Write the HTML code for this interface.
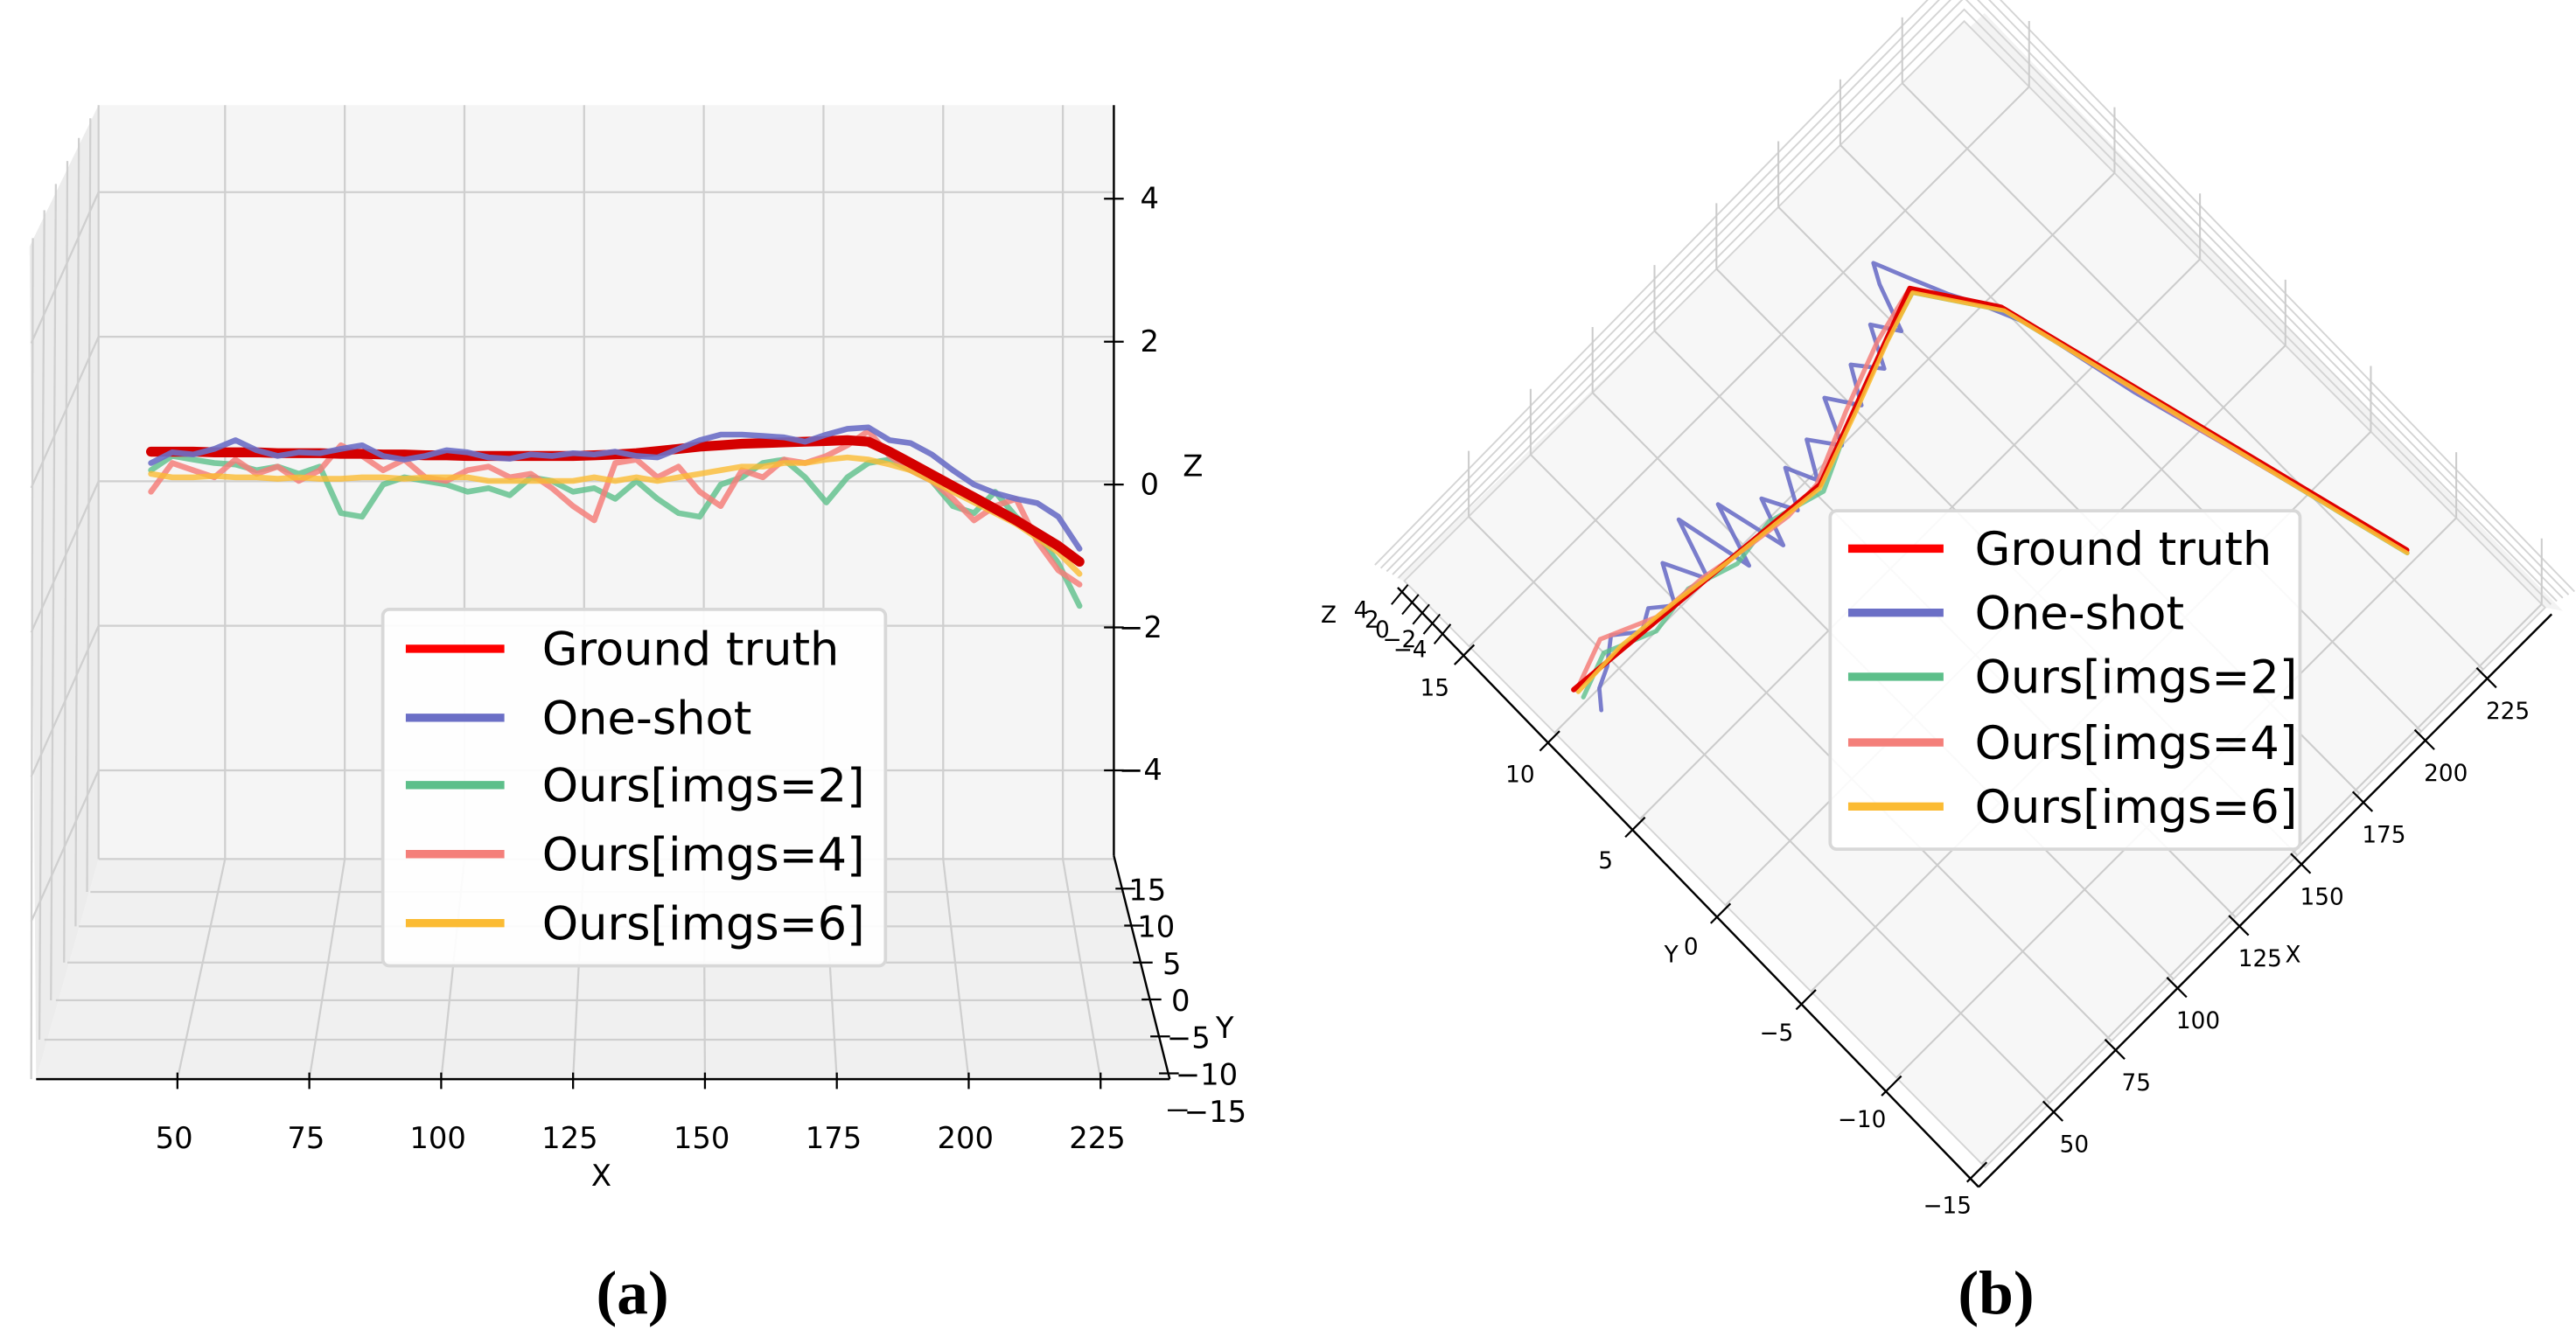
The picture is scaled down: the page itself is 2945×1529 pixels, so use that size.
<!DOCTYPE html>
<html><head><meta charset="utf-8"><style>
html,body{margin:0;padding:0;background:#fff}
svg{display:block}
text{font-family:"DejaVu Sans","Liberation Sans",sans-serif}
</style></head><body>
<svg id="fig" xmlns="http://www.w3.org/2000/svg" width="2945" height="1529" viewBox="0 0 1568 814" preserveAspectRatio="none">
<g id="left"></g>
<g id="right"></g>
<text x="385" y="800" font-size="38" font-weight="bold" text-anchor="middle" style="font-family:'Liberation Serif',serif">(a)</text>
<text x="1215" y="800" font-size="38" font-weight="bold" text-anchor="middle" style="font-family:'Liberation Serif',serif">(b)</text>
</svg>
<script>
// ---------- data: panel (a) side view x vs z ----------
const leftX = [45,49,53,57,61,65,69,73,77,81,85,89,93,97,101,105,109,113,117,121,125,129,133,137,141,145,149,153,157,161,165,169,173,177,181,185,189,193,197,201,205,209,213,217,221];
const leftGtZ = [.46,.46,.46,.45,.45,.45,.44,.44,.44,.43,.43,.42,.42,.41,.41,.40,.40,.40,.40,.40,.40,.41,.42,.44,.47,.50,.53,.55,.57,.58,.59,.60,.61,.62,.60,.46,.30,.14,-.02,-.18,-.34,-.50,-.68,-.86,-1.08];
const leftOneShotZ = [.30,.45,.42,.50,.62,.48,.40,.45,.44,.50,.55,.40,.35,.40,.48,.45,.38,.36,.42,.40,.44,.42,.46,.40,.38,.50,.62,.70,.70,.68,.66,.60,.70,.78,.80,.62,.58,.42,.20,.0,-.12,-.20,-.26,-.45,-.90];
const leftImgs2Z = [.20,.40,.35,.30,.28,.20,.25,.15,.25,-.40,-.45,.00,.10,.05,.00,-.10,-.05,-.15,.10,.05,-.10,-.05,-.20,.05,-.20,-.40,-.45,.00,.10,.30,.35,.10,-.25,.10,.30,.35,.20,.05,-.30,-.40,-.10,-.45,-.70,-1.10,-1.70];
const leftImgs4Z = [-.10,.30,.20,.10,.35,.15,.25,.05,.20,.55,.40,.20,.35,.10,.05,.20,.25,.10,.15,-.05,-.30,-.50,.30,.35,.10,.25,-.10,-.30,.20,.10,.35,.30,.40,.55,.75,.40,.20,.05,-.20,-.50,-.30,-.20,-.80,-1.20,-1.40];
const leftImgs6Z = [.15,.10,.10,.12,.10,.10,.08,.10,.08,.08,.10,.10,.08,.10,.10,.10,.05,.05,.05,.05,.05,.10,.05,.10,.05,.10,.15,.20,.25,.25,.30,.30,.35,.38,.35,.28,.20,.05,-.10,-.25,-.40,-.55,-.75,-.95,-1.25];
const leftXTicks = [50,75,100,125,150,175,200,225];
const leftZTicks = [4,2,0,-2,-4];
const leftYTicks = [15,10,5,0,-5,-10,-15];
// ---------- data: panel (b) top view x vs y ----------
const rightGtX = [36.5,127.7,185.3,200,233.5];
const rightGtY = [10.7,9.5,12.6,9.4,-9.5];
const rightOneShotX = [38,42,48,55,62,68,74,80,86,92,97,103,108,113,118,124,128,134,140,146,152,158,164,170,175,180,183,187,192,196,202,210,218,225,232];
const rightOneShotY = [9.3,10.0,10.4,11.2,10.4,10.9,10.2,11.8,10.0,12.6,9.2,11.9,8.8,10.8,9.4,11.0,9.7,11.2,10.0,11.9,10.6,12.1,11.0,12.7,11.6,13.6,14.4,13.0,11.3,10.2,8.2,3.0,-1.2,-5.0,-8.9];
const rightImgs2X = [37,50,65,80,95,110,127,145,165,185,200,215,233];
const rightImgs2Y = [10.2,10.9,10.0,10.3,9.6,9.9,9.2,10.4,11.5,12.4,9.2,0.6,-9.6];
const rightImgs4X = [37,52,68,85,100,115,127,148,168,185,200,215,233];
const rightImgs4Y = [10.6,11.4,10.4,10.2,9.8,9.5,9.6,10.9,12.0,12.6,9.3,0.5,-9.4];
const rightImgs6X = [37,55,75,95,127,150,170,185,200,233];
const rightImgs6Y = [10.5,10.6,10.3,9.9,9.4,10.6,11.7,12.4,9.2,-9.6];
const rightXTicks = [50,75,100,125,150,175,200,225];
const rightYTicks = [15,10,5,0,-5,-10,-15];
const rightZTicks = ["4","2","0","−2","−4"];
const legendLabels = ["Ground truth","One-shot","Ours[imgs=2]","Ours[imgs=4]","Ours[imgs=6]"];
const colors = ["#ff0000","#6b6fc6","#5dbf8a","#f47f7a","#fbbb33"];

const NS="http://www.w3.org/2000/svg";
function mk(parent,tag,attrs){const e=document.createElementNS(NS,tag);for(const k in attrs)e.setAttribute(k,attrs[k]);parent.appendChild(e);return e;}
const fmt=v=>String(v).replace('-','−');

// ---------- panel (a) ----------
const L=document.getElementById('left');
const lx=x=>108+(x-50)*3.211;
const lz=z=>295-z*43.5;
const backX=v=>137+(lx(v)-108)*0.9075;
const backZ=z=>293-z*44;
let p=mk(L,'polygon',{points:"60,64 678,64 678,523 60,523",fill:"#f5f5f5"});

p=mk(L,'polygon',{points:"18,150 60,64 60,523 22,657",fill:"#ececec"});

p=mk(L,'polygon',{points:"60,523 678,523 712,657 22,657",fill:"#f0f0f0"});

const gl={stroke:"#cfcfcf","stroke-width":1.2,fill:"none"};
[[60,64,60,523],[55,72,53,543],[48,84,46,564],[41,98,39,586],[34,112,31,609],[27,128,24,633],[20,145,19,657]].forEach(a=>{
 const e=mk(L,'line',Object.assign({x1:a[0],y1:a[1],x2:a[2],y2:a[3]},gl));
 });
leftZTicks.forEach(z=>{
 const y=backZ(z);
 let e=mk(L,'line',Object.assign({x1:60,y1:y,x2:678,y2:y},gl));
 
 e=mk(L,'line',Object.assign({x1:60,y1:y,x2:19,y2:y+92},gl));
 
});
[[523,60,678],[543,55,683],[564,48,688],[586,41,693],[609,34,698],[633,27,704],[657,22,712]].forEach(a=>{
 const e=mk(L,'line',Object.assign({x1:a[1],y1:a[0],x2:a[2],y2:a[0]},gl));
 });
leftXTicks.forEach(v=>{
 let e=mk(L,'line',Object.assign({x1:backX(v),y1:64,x2:backX(v),y2:523},gl));
 
 e=mk(L,'line',Object.assign({x1:backX(v),y1:523,x2:lx(v),y2:657},gl));
 
});
let ax=mk(L,'line',{x1:22,y1:657,x2:712,y2:657,stroke:"#000","stroke-width":1.3});

ax=mk(L,'line',{x1:678,y1:64,x2:678,y2:521,stroke:"#000","stroke-width":1.3});

ax=mk(L,'line',{x1:678,y1:521,x2:712,y2:657,stroke:"#000","stroke-width":1.3});

leftXTicks.forEach(v=>{
 let e=mk(L,'line',{x1:lx(v),y1:653,x2:lx(v),y2:663,stroke:"#000","stroke-width":1.2});
 
 e=mk(L,'text',{x:lx(v)-2,y:699,"font-size":18,"text-anchor":"middle"});e.textContent=v;
 
});
leftZTicks.forEach(z=>{
 let e=mk(L,'line',{x1:672,y1:lz(z),x2:684,y2:lz(z),stroke:"#000","stroke-width":1.2});
 
 e=mk(L,'text',{x:z<0?681:694,y:lz(z)+6,"font-size":18});e.textContent=fmt(z);
 
});
leftYTicks.forEach((v,i)=>{
 const y=547+i*22.5, x=683+i*5.3;
 let e=mk(L,'line',{x1:x-4,y1:y-6,x2:x+8,y2:y-6,stroke:"#000","stroke-width":1.2});
 
 e=mk(L,'text',{x:v<0?x+6:x+(v>=10?4:14),y:y+1,"font-size":18});e.textContent=fmt(v);
 
});
let t=mk(L,'text',{x:366,y:722,"font-size":18,"text-anchor":"middle"});t.textContent="X";

t=mk(L,'text',{x:720,y:290,"font-size":18});t.textContent="Z";

t=mk(L,'text',{x:740,y:632,"font-size":18});t.textContent="Y";

function lpath(zs){return zs.map((z,i)=>(i?'L':'M')+lx(leftX[i]).toFixed(1)+','+lz(z).toFixed(1)).join(' ');}
const leftSeries=[[leftImgs2Z,colors[2],0.8,'series-imgs2'],[leftImgs4Z,colors[3],0.85,'series-imgs4'],[leftImgs6Z,colors[4],0.8,'series-imgs6'],[leftGtZ,"#d40000",1,'series-ground-truth'],[leftOneShotZ,colors[1],0.9,'series-one-shot']];
leftSeries.forEach(s=>{
 const e=mk(L,'path',{d:lpath(s[0]),stroke:s[1],"stroke-opacity":s[2],"stroke-width":s[3]==='series-ground-truth'?6:3.5,fill:"none","stroke-linejoin":"round","stroke-linecap":"round"});
 
});
function legend(parent,x0,y0,w,h,rowY,lineX0,lineX1,textX){
 const g=mk(parent,'g',{});
 
 let b=mk(g,'rect',{x:x0,y:y0,width:w,height:h,rx:4,fill:"#fff","fill-opacity":0.9,stroke:"#d8d8d8","stroke-width":2});
 
 legendLabels.forEach((lab,i)=>{
  const y=rowY[i];
  let l=mk(g,'line',{x1:lineX0,y1:y,x2:lineX1,y2:y,stroke:colors[i],"stroke-width":5});
  
  let tx=mk(g,'text',{x:textX,y:y+10,"font-size":28});tx.textContent=lab;
  
 });
}
legend(L,233,371,306,217,[395,437,478,520,562],247,307,330);

// ---------- panel (b) ----------
const R=document.getElementById('right');
const rx=(x,y)=>1210.8+(x-25.6)*1.508-(y+15.2)*10.4;
const ry=(x,y)=>708.3-(x-25.6)*1.508-(y+15.2)*10.5;
const XMIN=24,XMAX=250,YMIN=-15.2,YMAX=18.8;
const pt=(x,y)=>rx(x,y).toFixed(1)+','+ry(x,y).toFixed(1);
let w=mk(R,'polygon',{points:[pt(XMIN,YMAX),pt(XMAX,YMAX),pt(XMAX,YMIN),"1560,372","1208,8","850,352"].join(' '),fill:"#f3f3f3"});

for(let k=1;k<=5;k++){
 const o=k*6.5;
 let e=mk(R,'polyline',{points:`${rx(XMIN,YMAX)-o*0.55},${ry(XMIN,YMAX)-o*0.3} ${rx(XMAX,YMAX)},${ry(XMAX,YMAX)-o*1.1} ${rx(XMAX,YMIN)+o*0.55},${ry(XMAX,YMIN)-o*0.3}`,fill:"none",stroke:"#d4d4d4","stroke-width":1});
 
}
w=mk(R,'polygon',{points:[pt(XMIN,YMIN),pt(XMIN,YMAX),pt(XMAX,YMAX),pt(XMAX,YMIN)].join(' '),fill:"#f7f7f7",stroke:"#d4d4d4","stroke-width":1});

const rg={stroke:"#cccccc","stroke-width":1.1};
rightXTicks.forEach(v=>{
 const e=mk(R,'line',Object.assign({x1:rx(v,YMIN),y1:ry(v,YMIN),x2:rx(v,YMAX),y2:ry(v,YMAX)},rg));
 
 const s=mk(R,'line',Object.assign({x1:rx(v,YMAX),y1:ry(v,YMAX),x2:rx(v,YMAX),y2:ry(v,YMAX)-40},rg));
 
});
rightYTicks.forEach(v=>{
 const e=mk(R,'line',Object.assign({x1:rx(XMIN,v),y1:ry(XMIN,v),x2:rx(XMAX,v),y2:ry(XMAX,v)},rg));
 
 const s=mk(R,'line',Object.assign({x1:rx(XMAX,v),y1:ry(XMAX,v),x2:rx(XMAX,v),y2:ry(XMAX,v)-40},rg));
 
});
ax=mk(R,'line',{x1:rx(XMIN,YMAX)-4,y1:ry(XMIN,YMAX)+4,x2:rx(XMIN,YMIN)-4,y2:ry(XMIN,YMIN)+12,stroke:"#000","stroke-width":1.3});

ax=mk(R,'line',{x1:rx(XMIN,YMIN)-4,y1:ry(XMIN,YMIN)+12,x2:rx(XMAX,YMIN)+4,y2:ry(XMAX,YMIN)+4,stroke:"#000","stroke-width":1.3});

rightYTicks.forEach(v=>{
 const X=rx(XMIN,v)-3,Y=ry(XMIN,v)+5;
 let e=mk(R,'line',{x1:X-6,y1:Y+6,x2:X+6,y2:Y-6,stroke:"#000","stroke-width":1.2});
 
 e=mk(R,'text',{x:X-18,y:Y+25,"font-size":14,"text-anchor":"middle"});e.textContent=fmt(v);
 
});
rightXTicks.forEach(v=>{
 const X=rx(v,YMIN)+2,Y=ry(v,YMIN)+5;
 let e=mk(R,'line',{x1:X-6,y1:Y-6,x2:X+6,y2:Y+6,stroke:"#000","stroke-width":1.2});
 
 e=mk(R,'text',{x:X+13,y:Y+25,"font-size":14,"text-anchor":"middle"});e.textContent=v;
 
});
rightZTicks.forEach((v,i)=>{
 const X=852+i*6.5,Y=362+i*6;
 let e=mk(R,'line',{x1:X-5,y1:Y+6,x2:X+5,y2:Y-6,stroke:"#000","stroke-width":1.1});
 
 e=mk(R,'text',{x:X-28+(v.length>1?-2:0),y:Y+14,"font-size":14});e.textContent=v;
 
});
t=mk(R,'text',{x:804,y:379,"font-size":14});t.textContent="Z";

t=mk(R,'text',{x:1013,y:586,"font-size":14});t.textContent="Y";

t=mk(R,'text',{x:1391,y:586,"font-size":14});t.textContent="X";

function rpath(xs,ys){return xs.map((x,i)=>(i?'L':'M')+pt(x,ys[i])).join(' ');}
const rightSeries=[[rightOneShotX,rightOneShotY,colors[1],0.9,2.5,'series-one-shot'],[rightImgs2X,rightImgs2Y,colors[2],0.8,2.8,'series-imgs2'],[rightImgs4X,rightImgs4Y,colors[3],0.85,2.8,'series-imgs4'],[rightGtX,rightGtY,"#e00000",1,3.2,'series-ground-truth'],[rightImgs6X,rightImgs6Y,colors[4],0.9,2.6,'series-imgs6']];
rightSeries.forEach(s=>{
 const e=mk(R,'path',{d:rpath(s[0],s[1]),stroke:s[2],"stroke-opacity":s[3],"stroke-width":s[4],fill:"none","stroke-linejoin":"round","stroke-linecap":"round"});
 
});
legend(R,1114,311,286,206,[334,373,412,452,491],1125,1183,1202);
</script>
</body></html>
